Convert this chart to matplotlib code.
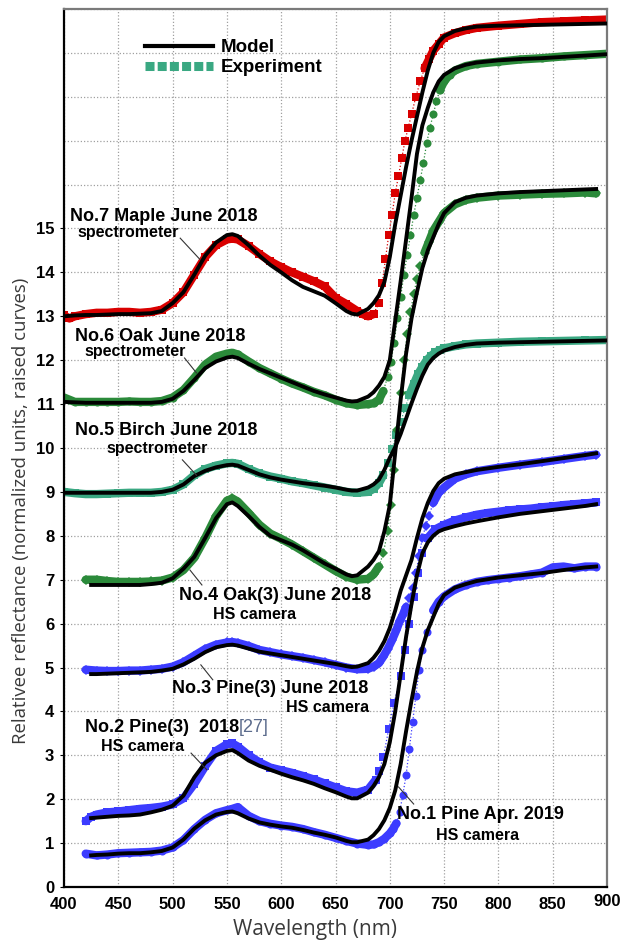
import numpy as np
import matplotlib
matplotlib.use('Agg')
import matplotlib.pyplot as plt
from matplotlib.lines import Line2D
from matplotlib.transforms import ScaledTranslation

# ---- model curves (spectrometer grid 400..900, HS camera grid 425..890) ----
wl_spec = [400, 410, 420, 430, 440, 450, 460, 470, 480, 490,
           500, 510, 520, 530, 540, 550, 555, 560, 570, 580,
           590, 600, 610, 620, 630, 640, 650, 660, 665, 670,
           680, 685, 690, 695, 700, 705, 710, 715, 720, 725,
           730, 735, 740, 745, 750, 760, 770, 780, 800, 820,
           840, 860, 880, 900]
wl_hs = [425, 430, 440, 450, 460, 470, 480, 490,
         500, 510, 520, 530, 540, 550, 555, 560, 570, 580,
         590, 600, 610, 620, 630, 640, 650, 660, 665, 670,
         680, 685, 690, 695, 700, 705, 710, 715, 720, 725,
         730, 735, 740, 745, 750, 760, 770, 780, 800, 820,
         840, 860, 880, 890]

maple_model = [13.0, 13.02, 13.03, 13.03, 13.04, 13.05, 13.05, 13.06, 13.07, 13.12,
               13.3, 13.55, 13.95, 14.38, 14.68, 14.85, 14.87, 14.83, 14.62, 14.38,
               14.17, 14.0, 13.82, 13.67, 13.57, 13.47, 13.3, 13.12, 13.06, 13.04,
               13.17, 13.3, 13.48, 13.78, 14.35, 15.1, 15.75, 16.4, 17.0, 17.55,
               18.1, 18.6, 19.0, 19.25, 19.38, 19.5, 19.56, 19.6, 19.62, 19.63,
               19.64, 19.65, 19.66, 19.67]
oak_model = [11.05, 11.04, 11.03, 11.03, 11.03, 11.03, 11.03, 11.03, 11.03, 11.05,
             11.12, 11.3, 11.55, 11.82, 11.97, 12.06, 12.08, 12.05, 11.92, 11.8,
             11.7, 11.6, 11.5, 11.4, 11.3, 11.22, 11.15, 11.08, 11.06, 11.07,
             11.17, 11.27, 11.42, 11.62, 12.0, 12.9, 13.8, 14.75, 15.7, 16.7,
             17.35, 17.75, 18.1, 18.35, 18.5, 18.65, 18.73, 18.78, 18.83, 18.86,
             18.88, 18.91, 18.94, 18.97]
birch_model = [8.98, 8.98, 8.98, 8.98, 8.98, 8.98, 8.98, 8.98, 8.98, 9.0,
               9.05, 9.17, 9.36, 9.48, 9.56, 9.61, 9.62, 9.6, 9.5, 9.4,
               9.33, 9.28, 9.24, 9.2, 9.17, 9.14, 9.1, 9.05, 9.03, 9.03,
               9.1, 9.17, 9.28, 9.5, 9.78, 10.02, 10.32, 10.67, 11.02, 11.35,
               11.65, 11.9, 12.05, 12.15, 12.22, 12.3, 12.35, 12.38, 12.4, 12.41,
               12.42, 12.43, 12.44, 12.45]
oak3_model = [6.88, 6.88, 6.88, 6.88, 6.88, 6.88, 6.9, 6.93,
              7.03, 7.25, 7.52, 7.95, 8.4, 8.72, 8.76, 8.68, 8.45, 8.2,
              8.0, 7.9, 7.8, 7.67, 7.52, 7.37, 7.25, 7.12, 7.08, 7.1,
              7.3, 7.45, 7.65, 8.1, 8.7, 9.9, 11.1, 12.15, 12.95, 13.55,
              14.1, 14.5, 14.8, 15.1, 15.35, 15.6, 15.7, 15.75, 15.8, 15.83,
              15.85, 15.87, 15.89, 15.9]
pine3_model = [4.85, 4.85, 4.86, 4.87, 4.88, 4.89, 4.9, 4.93,
               4.97, 5.07, 5.2, 5.35, 5.46, 5.51, 5.52, 5.5, 5.43, 5.36,
               5.32, 5.28, 5.24, 5.2, 5.16, 5.12, 5.08, 5.03, 5.01, 5.02,
               5.1, 5.22, 5.38, 5.6, 5.9, 6.3, 6.75, 7.1, 7.45, 7.95,
               8.4, 8.75, 9.02, 9.2, 9.3, 9.4, 9.45, 9.5, 9.57, 9.63,
               9.7, 9.77, 9.84, 9.88]
pine2_model = [1.57, 1.58, 1.6, 1.62, 1.63, 1.65, 1.7, 1.76,
               1.85, 2.08, 2.5, 2.83, 3.0, 3.1, 3.12, 3.05, 2.88, 2.76,
               2.67, 2.58, 2.5, 2.43, 2.35, 2.25, 2.16, 2.06, 2.02, 2.02,
               2.15, 2.3, 2.5, 2.8, 3.3, 4.0, 4.85, 5.7, 6.45, 7.1,
               7.6, 7.85, 8.0, 8.1, 8.15, 8.22, 8.28, 8.33, 8.42, 8.5,
               8.56, 8.62, 8.68, 8.72]
pine1_model = [0.72, 0.73, 0.74, 0.76, 0.77, 0.77, 0.79, 0.82,
               0.9, 1.08, 1.33, 1.52, 1.65, 1.71, 1.72, 1.68, 1.56, 1.47,
               1.42, 1.38, 1.35, 1.3, 1.24, 1.19, 1.13, 1.05, 1.02, 1.02,
               1.08, 1.18, 1.32, 1.52, 1.8, 2.2, 2.8, 3.55, 4.25, 4.9,
               5.45, 5.85, 6.15, 6.45, 6.65, 6.82, 6.9, 6.97, 7.05, 7.1,
               7.15, 7.22, 7.28, 7.3]

# ---- measured spectra ----
maple_wl = [400, 405, 410, 420, 430, 440, 450, 460, 470, 480, 490,
            500, 510, 520, 530, 540, 550, 555, 560,
            570, 580, 590, 600, 610, 620, 630, 640, 650, 660, 670,
            675, 680, 685, 690,
            693, 696, 699, 702, 705, 708, 711, 714, 717, 720,
            724, 728, 732, 736, 740, 745, 750, 760, 770, 780,
            800, 820, 840, 860, 880, 900]
maple_exp = [13.02, 12.95, 13.0, 13.05, 13.08, 13.08, 13.1, 13.1, 13.08, 13.1, 13.15,
             13.3, 13.55, 13.95, 14.35, 14.62, 14.75, 14.77, 14.75,
             14.6, 14.42, 14.25, 14.12, 14.0, 13.9, 13.8, 13.68, 13.42, 13.28, 13.12,
             13.05, 13.0, 13.05, 13.3,
             13.75, 14.3, 14.85, 15.3, 15.8, 16.2, 16.6, 17.0, 17.3, 17.6,
             18.0, 18.35, 18.65, 18.85, 19.05, 19.2, 19.35, 19.45, 19.52, 19.57,
             19.62, 19.66, 19.7, 19.72, 19.74, 19.76]

oak_wl = [400, 405, 410, 420, 430, 440, 450, 460, 470, 480, 490,
          500, 510, 520, 530, 540, 550, 555, 560,
          570, 580, 590, 600, 610, 620, 630, 640, 650, 660, 670, 680, 685,
          690, 694, 698, 701, 704, 707, 710, 713, 716, 719,
          722, 725, 728, 731, 734, 737, 740, 743, 746,
          750, 755, 760, 770, 780, 800, 820, 840, 860, 880, 900]
oak_exp = [11.15, 11.1, 11.05, 11.05, 11.05, 11.05, 11.05, 11.06, 11.05, 11.05, 11.07,
           11.15, 11.32, 11.6, 11.9, 12.08, 12.15, 12.17, 12.13,
           11.97, 11.82, 11.7, 11.58, 11.47, 11.38, 11.28, 11.2, 11.1, 11.02, 10.98, 11.0, 11.02,
           11.1, 11.3, 11.62, 11.95, 12.4, 12.95, 13.45, 13.95, 14.4, 14.85,
           15.3, 15.7, 16.1, 16.5, 16.95, 17.3, 17.6, 17.9, 18.15,
           18.35, 18.5, 18.6, 18.7, 18.75, 18.8, 18.85, 18.88, 18.92, 18.95, 18.98]

birch_wl = [400, 410, 420, 430, 440, 450, 460, 470, 480, 490,
            500, 510, 520, 530, 540, 550, 555, 560,
            570, 580, 590, 600, 610, 620, 630, 640, 650, 660, 670, 680, 685,
            690, 694, 698, 702, 706, 710, 714, 718, 722, 726,
            730, 734, 738, 742, 746, 750, 760, 770, 780,
            800, 820, 840, 860, 880, 900]
birch_exp = [9.0, 8.97, 8.95, 8.95, 8.96, 8.97, 8.98, 8.98, 8.98, 9.0,
             9.05, 9.17, 9.38, 9.52, 9.6, 9.65, 9.66, 9.64,
             9.52, 9.42, 9.35, 9.3, 9.24, 9.2, 9.15, 9.1, 9.05, 9.0, 8.98, 9.0, 9.07,
             9.2, 9.38, 9.65, 9.98, 10.3, 10.6, 10.9, 11.2, 11.45, 11.68,
             11.85, 12.0, 12.1, 12.18, 12.23, 12.27, 12.32, 12.36, 12.38,
             12.4, 12.42, 12.43, 12.44, 12.45, 12.46]

oak3_wl = [420, 430, 440, 450, 460, 470, 480, 490,
           500, 510, 520, 530, 540, 550, 555, 560,
           570, 580, 590, 600, 610, 620, 630, 640, 650, 660, 670, 680, 685,
           690, 694, 698, 701, 704, 707, 710, 713, 716, 719,
           722, 725, 728, 732, 736, 740, 745, 750, 760, 770, 780,
           800, 820, 840, 860, 880, 890]
oak3_exp = [7.0, 7.0, 6.97, 6.95, 6.95, 6.95, 6.96, 6.98,
            7.05, 7.22, 7.5, 7.95, 8.45, 8.8, 8.85, 8.78,
            8.52, 8.25, 8.05, 7.93, 7.8, 7.65, 7.5, 7.35, 7.2, 7.07, 7.0, 7.02, 7.12,
            7.3, 7.6, 8.1, 8.7, 9.5, 10.4, 11.25, 12.0, 12.6, 13.1,
            13.5, 13.85, 14.15, 14.45, 14.7, 14.95, 15.15, 15.35, 15.55, 15.65, 15.7,
            15.75, 15.77, 15.79, 15.8, 15.82, 15.8]

pine3_wl = [420, 430, 440, 450, 460, 470, 480, 490,
            500, 510, 520, 530, 540, 550, 555, 560,
            570, 580, 590, 600, 610, 620, 630, 640, 650, 660, 670, 680, 685,
            690, 694, 698, 702, 706, 709, 712, 715, 718, 721, 724, 727, 730, 733, 736, 740,
            745, 750, 760, 770, 780, 800, 820, 840, 860, 880, 890]
pine3_exp = [4.95, 4.93, 4.92, 4.92, 4.93, 4.93, 4.95, 4.97,
             5.02, 5.12, 5.27, 5.42, 5.52, 5.57, 5.58, 5.56,
             5.49, 5.4, 5.35, 5.3, 5.26, 5.22, 5.17, 5.12, 5.06, 5.0, 4.96, 4.97, 5.02,
             5.1, 5.25, 5.42, 5.62, 5.85, 6.05, 6.2, 6.38, 6.58, 6.8, 7.15, 7.55, 7.95, 8.22, 8.45, 8.75,
             8.98, 9.1, 9.3, 9.4, 9.47, 9.55, 9.62, 9.68, 9.75, 9.82, 9.85]

pine2_wl = [420, 425, 430, 440, 450, 460, 470, 480, 490,
            500, 510, 520, 530, 540, 550, 555, 560,
            570, 580, 590, 600, 610, 620, 630, 640, 650, 660, 670, 680,
            687, 690, 694, 699, 704, 710, 714, 718, 722, 726, 730, 735, 742,
            750, 760, 770, 780, 790, 800, 810, 820, 830, 840, 850, 860, 870, 880, 890]
pine2_exp = [1.5, 1.6, 1.65, 1.7, 1.72, 1.75, 1.78, 1.8, 1.83,
             1.88, 2.02, 2.35, 2.75, 3.1, 3.25, 3.27, 3.2,
             3.0, 2.84, 2.72, 2.66, 2.6, 2.53, 2.45, 2.36, 2.27, 2.18, 2.15, 2.22,
             2.44, 2.65, 2.95, 3.6, 4.2, 4.8, 5.4, 6.0, 6.6, 7.15, 7.6, 7.95, 8.15,
             8.25, 8.35, 8.42, 8.48, 8.52, 8.55, 8.58, 8.6, 8.62, 8.65, 8.67, 8.7, 8.72, 8.74, 8.76]

pine1_wl = [420, 430, 440, 450, 460, 470, 480, 490,
            500, 510, 520, 530, 540, 550, 555, 560,
            570, 580, 590, 600, 610, 620, 630, 640, 650, 660, 670, 680,
            685, 690, 695, 700,
            703, 706, 709, 712, 715, 718, 721, 724, 727, 730,
            734, 740, 745, 750,
            760, 770, 780, 790, 800, 810, 820, 830, 840, 850, 860, 870, 880, 890]
pine1_exp = [0.76, 0.72, 0.74, 0.77, 0.78, 0.79, 0.8, 0.83,
             0.9, 1.07, 1.32, 1.53, 1.68, 1.75, 1.78, 1.82,
             1.62, 1.5, 1.44, 1.4, 1.37, 1.32, 1.25, 1.19, 1.12, 1.05, 0.99, 0.96,
             0.97, 1.02, 1.1, 1.22,
             1.32, 1.45, 1.7, 2.1, 2.55, 3.15, 3.75, 4.35, 4.95, 5.4,
             5.8, 6.3, 6.5, 6.62,
             6.78, 6.88, 6.95, 6.99, 7.02, 7.05, 7.08, 7.12, 7.16, 7.28, 7.3, 7.26, 7.3, 7.3]

RED = '#d90000'
GREEN = '#2b8a3a'
TEAL = '#3aa882'
BLUE = '#3c3cff'

BOLD = 'Liberation Sans'

fig = plt.figure(figsize=(6.24, 9.44), dpi=100)
ax = fig.add_axes([64 / 624, 57 / 944, 543 / 624, 878 / 944])
ax.set_xlim(400, 900)
ax.set_ylim(0, 20)


def draw_exp(wl, val, color, marker, ms=5.8):
    wl = np.asarray(wl, float)
    val = np.asarray(val, float)
    # thick band only where the spectrum is flat, single markers on the red edge
    slope = np.abs(np.gradient(val, wl))
    band = np.where(slope < 0.07, val, np.nan)
    ax.plot(wl, val, ls=':', lw=0.9, color=color, zorder=2)
    ax.plot(wl, band, lw=6, color=color, solid_capstyle='round', zorder=2)
    ax.plot(wl, val, ls='none', marker=marker, ms=ms, color=color,
            markeredgewidth=0, zorder=2)


draw_exp(maple_wl, maple_exp, RED, 's')
draw_exp(oak_wl, oak_exp, GREEN, 'o')
draw_exp(birch_wl, birch_exp, TEAL, 's')
draw_exp(oak3_wl, oak3_exp, GREEN, 'D', ms=5.2)
draw_exp(pine3_wl, pine3_exp, BLUE, 'D', ms=5.2)
draw_exp(pine2_wl, pine2_exp, BLUE, 's')
draw_exp(pine1_wl, pine1_exp, BLUE, 'o')

for vals in (maple_model, oak_model, birch_model):
    ax.plot(wl_spec, vals, color='black', lw=2.8, zorder=3)
for vals in (oak3_model, pine3_model, pine2_model, pine1_model):
    ax.plot(wl_hs, vals, color='black', lw=2.8, zorder=3)

# labels: (title, subtitle, title pos, subtitle pos, leader start, leader end)
labels = [
    ('No.7 Maple June 2018', 'spectrometer', (405.5, 15.28), (412, 14.9), (507, 14.78), (525, 14.3)),
    ('No.6 Oak June 2018', 'spectrometer', (410, 12.55), (419, 12.19), (511, 12.05), (522, 11.71)),
    ('No.5 Birch June 2018', 'spectrometer', (410, 10.41), (439, 9.98), (509, 9.73), (522, 9.38)),
    ('No.4 Oak(3) June 2018', 'HS camera', (506, 6.65), (537, 6.2), (516, 7.22), (527, 6.88)),
    ('No.3 Pine(3) June 2018', 'HS camera', (499, 4.53), (604.5, 4.08), (526, 5.06), (537, 4.72)),
    ('No.2 Pine(3)  2018', 'HS camera', (419, 3.64), (434.5, 3.19), (517, 3.05), (531.5, 2.67)),
    ('No.1 Pine Apr. 2019', 'HS camera', (707, 1.66), (743, 1.18), (708, 2.28), (722, 1.89)),
]
for title, sub, tpos, spos, p0, p1 in labels:
    t = ax.text(*tpos, title, fontsize=13, fontweight='bold', family=BOLD,
                ha='left', va='center', zorder=5)
    ax.text(*spos, sub, fontsize=11.5, fontweight='bold', family=BOLD,
            ha='left', va='center', zorder=5)
    ax.plot([p0[0], p1[0]], [p0[1], p1[1]], color='#333333', lw=0.8, zorder=4)
    if title.startswith('No.2'):
        ax.annotate('[27]', xycoords=t, xy=(1, 0.5), va='center', ha='left',
                    fontsize=13, family=BOLD, color='#5b6b8c')

# legend
handles = [Line2D([], [], color='black', lw=3),
           Line2D([], [], color=TEAL, lw=6.5, dashes=(1.0, 0.35))]
ax.legend(handles, ['Model', 'Experiment'], loc='upper left',
          bbox_to_anchor=(0.118, 0.985), frameon=False, handlelength=3.65,
          handletextpad=0.4, labelspacing=0.15,
          prop={'family': BOLD, 'weight': 'bold', 'size': 13.5})

# axes, ticks, grid
ax.set_xticks(range(400, 901, 50))
ax.set_yticks(range(0, 21))
ax.set_yticklabels([str(v) if v <= 15 else '' for v in range(0, 21)])
ax.tick_params(axis='x', length=0, pad=7)
ax.tick_params(axis='y', length=3, pad=4, direction='out')
for tick in ax.yaxis.get_major_ticks()[16:]:
    tick.tick1line.set_visible(False)
for lab in ax.get_xticklabels() + ax.get_yticklabels():
    lab.set_fontfamily(BOLD)
    lab.set_fontweight('bold')
    lab.set_fontsize(12)
last = ax.get_xticklabels()[-1]
last.set_transform(last.get_transform() + ScaledTranslation(0, 2 / 72, fig.dpi_scale_trans))

ax.grid(True, ls=(0, (1, 1.6)), color='#a0a0a0', lw=0.9)
ax.set_axisbelow(True)
for side in ('left', 'bottom'):
    ax.spines[side].set_color('black')
    ax.spines[side].set_linewidth(1.6)
for side in ('top', 'right'):
    ax.spines[side].set_color('#7a7a7a')
    ax.spines[side].set_linewidth(1.6)

ax.set_ylabel('Relativee reflectance (normalized units, raised curves)',
              family='Open Sans', fontsize=13.4, color='#3a3a3a')
ax.yaxis.set_label_coords(-0.063, 0.428)
ax.set_xlabel('Wavelength (nm)', family='Open Sans', fontsize=15, color='#3a3a3a')
ax.xaxis.set_label_coords(0.462, -0.037)

fig.savefig('out.png', dpi=100)
